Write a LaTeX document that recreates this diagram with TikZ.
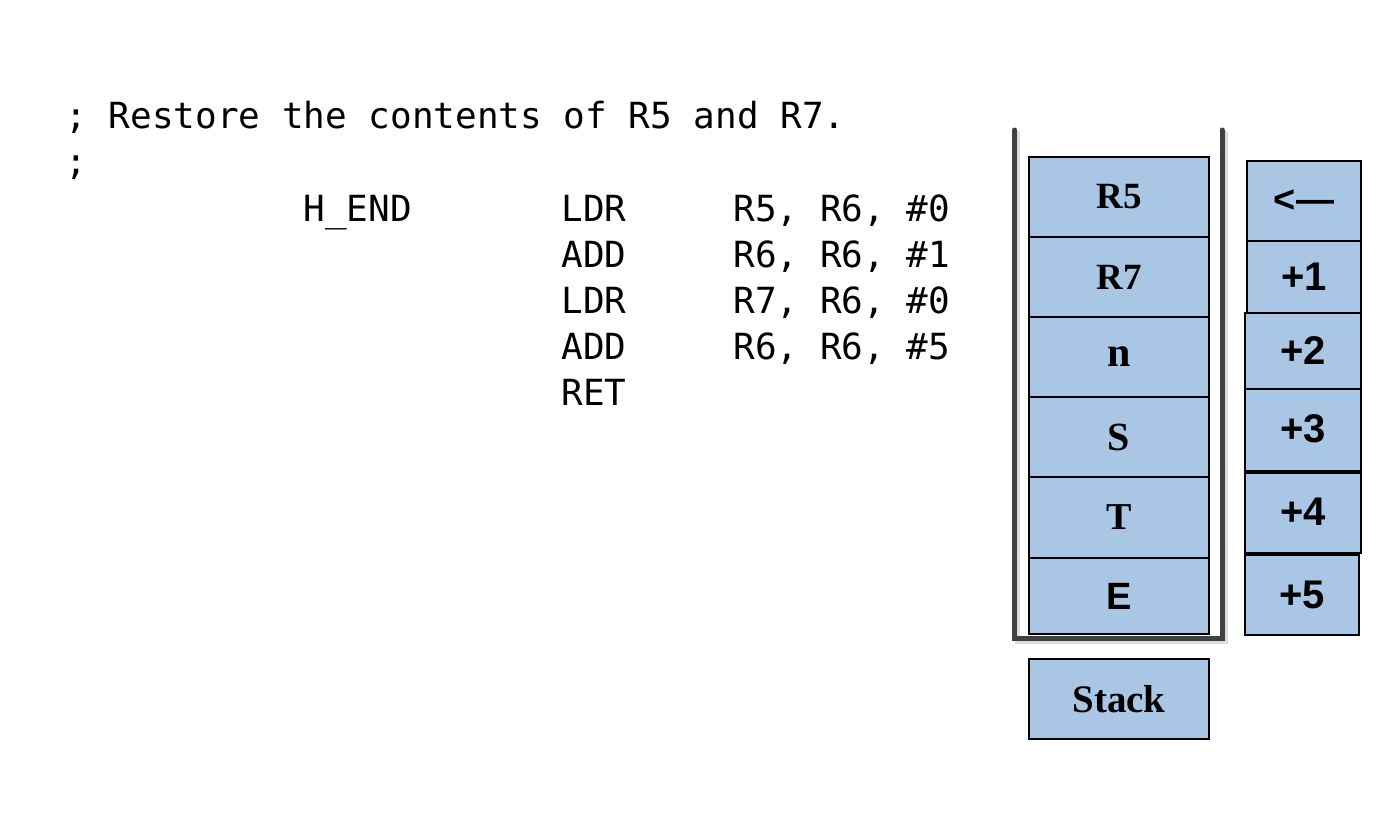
\documentclass[tikz,border=0pt]{standalone}
\usepackage{fontspec}
\setmainfont{Liberation Serif}
\newfontfamily\arialf{Liberation Sans}
\newfontfamily\codef{DejaVu Sans Mono}
\definecolor{cellblue}{RGB}{169,198,228}
\definecolor{wallgray}{RGB}{64,64,64}
\definecolor{shadowgray}{RGB}{220,220,220}
\begin{document}
\begin{tikzpicture}[x=0.5pt,y=-0.5pt,
  code/.style={anchor=base west,inner sep=0pt,font=\codef\fontsize{18pt}{20pt}\selectfont},
  cell/.style={draw=black,line width=1pt,fill=cellblue,inner sep=0pt,font=\bfseries},
  serifl/.style={font=\bfseries\fontsize{#1}{#1}\selectfont},
  sansl/.style={font=\arialf\bfseries\fontsize{#1}{#1}\selectfont},
  wall/.style={draw=wallgray,line width=2.5pt,line cap=round,line join=miter},
  wallshadow/.style={draw=shadowgray,line width=2.5pt,line cap=round,line join=miter}]
\useasboundingbox (0,0) rectangle (1394,832);
% code
\node[code] (l1) at (65,128) {; Restore the contents of R5 and R7.};
\node[code] (l2) at (65,174) {;};
\node[code] (lab) at (303,221) {H\_END};
\node[code] (op1) at (561,221) {LDR};
\node[code] (op2) at (561,267) {ADD};
\node[code] (op3) at (561,313) {LDR};
\node[code] (op4) at (561,359) {ADD};
\node[code] (op5) at (561,405) {RET};
\node[code] (ar1) at (733,221) {R5, R6, \#0};
\node[code] (ar2) at (733,267) {R6, R6, \#1};
\node[code] (ar3) at (733,313) {R7, R6, \#0};
\node[code] (ar4) at (733,359) {R6, R6, \#5};
% stack walls
\draw[wallshadow] (1017.5,133) -- (1017.5,641.5) -- (1225,641.5) -- (1225,133);
\draw[wall] (1014.5,130) -- (1014.5,638.5) -- (1222,638.5) -- (1222,130);
% stack cells
\node[cell,serifl=18.5pt,minimum width=90pt,minimum height=40pt] (sR5) at (1119,197) {R5};
\node[cell,serifl=18.5pt,minimum width=90pt,minimum height=40pt] (sR7) at (1119,277) {R7};
\node[cell,serifl=21pt,minimum width=90pt,minimum height=40pt] (sn) at (1119,357) {\raisebox{-1.5pt}{n}};
\node[cell,serifl=20pt,minimum width=90pt,minimum height=40pt] (sS) at (1119,437) {S};
\node[cell,serifl=19pt,minimum width=90pt,minimum height=40.5pt] (sT) at (1119,517.5) {T};
\node[cell,sansl=19pt,minimum width=90pt,minimum height=38pt] (sE) at (1119,596) {E};
\node[cell,serifl=19.5pt,minimum width=90pt,minimum height=40pt] (stack) at (1119,699) {Stack};
% offsets
\node[cell,sansl=19pt,minimum width=57pt,minimum height=40pt] (o0) at (1304,201) {<—};
\node[cell,sansl=20pt,minimum width=57pt,minimum height=36pt] (o1) at (1304,277) {+1};
\node[cell,sansl=20pt,minimum width=58pt,minimum height=38pt] (o2) at (1303,351) {+2};
\node[cell,sansl=20pt,minimum width=58pt,minimum height=41pt] (o3) at (1303,430) {\raisebox{1pt}{+3}};
\node[cell,sansl=20pt,minimum width=58pt,minimum height=40pt] (o4) at (1303,513) {\raisebox{1pt}{+4}};
\node[cell,sansl=20pt,minimum width=57pt,minimum height=40pt] (o5) at (1302,595) {+5};
\end{tikzpicture}
\end{document}
